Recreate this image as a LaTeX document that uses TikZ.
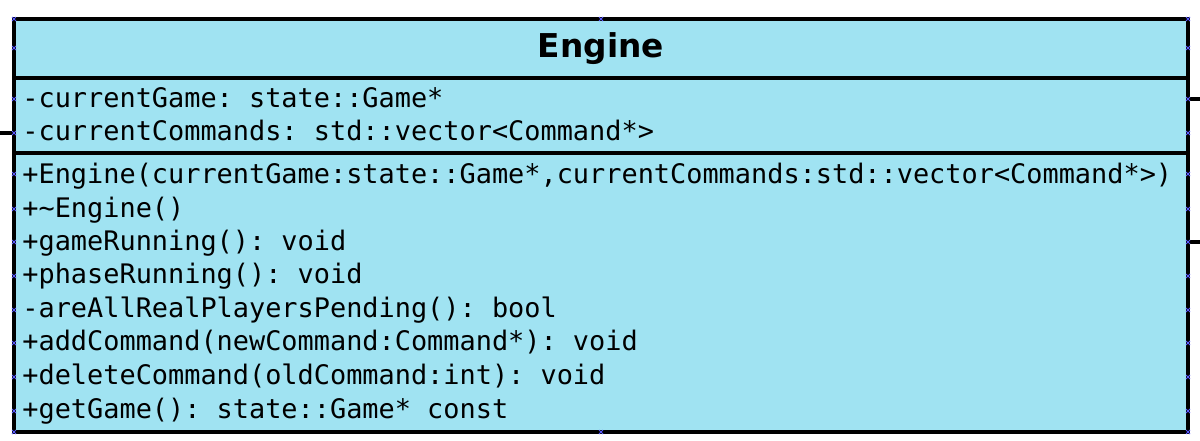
\documentclass[tikz,border=0pt]{standalone}
\usepackage{fontspec}
\setmainfont{DejaVu Sans}
\setmonofont{DejaVu Sans Mono}
\definecolor{classfill}{RGB}{160,227,242}
\definecolor{cpblue}{RGB}{90,90,255}
\begin{document}
\begin{tikzpicture}[x=0.5pt,y=-0.5pt,
  member/.style={anchor=base west,inner sep=0pt,font=\ttfamily\fontsize{13.45pt}{16pt}\selectfont},
  title/.style={anchor=base,inner sep=0pt,font=\bfseries\fontsize{16.4pt}{19pt}\selectfont},
  frame/.style={line width=1.6pt,draw=black},
  cp/.style={cpblue,line width=0.4pt}]
\useasboundingbox (0,0) rectangle (1200,440);
% class box
\path[fill=classfill] (14,19) rectangle (1188,432);
\coordinate (tl) at (14,19);
\coordinate (br) at (1188,432);
\draw[frame] (14,78) -- (1188,78);
\draw[frame] (14,153) -- (1188,153);
\draw[frame] (tl) rectangle (br);
% title
\node[title] (name) at (601,57.5) {Engine};
% attributes
\node[member] (a1) at (22,107) {-currentGame: state::Game*};
\node[member] (a2) at (22,140) {-currentCommands: std::vector<Command*>};
% operations
\node[member] (m1) at (22,183) {+Engine(currentGame:state::Game*,currentCommands:std::vector<Command*>)};
\node[member] (m2) at (22,217) {+\textasciitilde Engine()};
\node[member] (m3) at (22,250) {+gameRunning(): void};
\node[member] (m4) at (22,283) {+phaseRunning(): void};
\node[member] (m5) at (22,317) {-areAllRealPlayersPending(): bool};
\node[member] (m6) at (22,350) {+addCommand(newCommand:Command*): void};
\node[member] (m7) at (22,384) {+deleteCommand(oldCommand:int): void};
\node[member] (m8) at (22,418) {+getGame(): state::Game* const};
% connector stubs
\coordinate (L1) at (14,133);
\coordinate (L1o) at (0,133);
\coordinate (R1) at (1188,99);
\coordinate (R1o) at (1200,99);
\coordinate (R2) at (1188,242);
\coordinate (R2o) at (1200,242);
\draw[frame] (L1o) -- (L1);
\draw[frame] (R1) -- (R1o);
\draw[frame] (R2) -- (R2o);
% connection point marks
\foreach \y in {19,48,99,133,174,209,242,276,310,343,377,411,432}{
  \draw[cp] (12,\y-2) -- (16,\y+2) (12,\y+2) -- (16,\y-2);
  \draw[cp] (1186,\y-2) -- (1190,\y+2) (1186,\y+2) -- (1190,\y-2);
}
\foreach \y in {19,432}{
  \draw[cp] (599,\y-2) -- (603,\y+2) (599,\y+2) -- (603,\y-2);
}
\end{tikzpicture}
\end{document}
